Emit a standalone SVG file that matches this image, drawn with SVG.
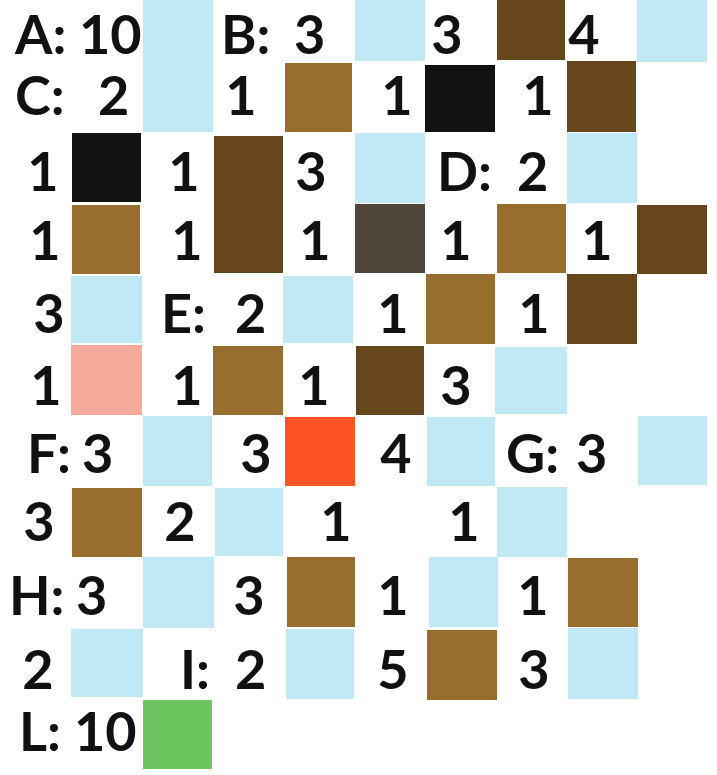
<svg xmlns="http://www.w3.org/2000/svg" width="717" height="775" viewBox="0 0 717 775">
<style>
.lb{fill:#bfe9f5}.db{fill:#66461a}.mb{fill:#976e2e}.bk{fill:#121212}.gr{fill:#4f453b}.pk{fill:#f5a99a}.or{fill:#fd5426}.gn{fill:#6cc55e}
text{font-family:Lato,"Liberation Sans",sans-serif;font-weight:700;font-size:54px;fill:#111}
.c{text-anchor:middle}
</style>
<rect width="717" height="775" fill="#fff"/>
<g id="cells">
<rect class="lb" x="143" y="0" width="70" height="62"/>
<rect class="lb" x="355" y="0" width="70" height="61"/>
<rect class="db" x="497" y="0" width="68" height="60"/>
<rect class="lb" x="637" y="0" width="70" height="62"/>
<rect class="lb" x="143" y="62" width="70" height="70"/>
<rect class="mb" x="285" y="63" width="67" height="69"/>
<rect class="bk" x="425" y="65" width="70" height="67"/>
<rect class="db" x="567" y="61" width="69" height="71"/>
<rect class="bk" x="72" y="133" width="69" height="69"/>
<rect class="db" x="214" y="136" width="69" height="137"/>
<rect class="lb" x="355" y="133" width="70" height="70"/>
<rect class="lb" x="567" y="133" width="70" height="70"/>
<rect class="mb" x="72" y="205" width="68" height="69"/>
<rect class="gr" x="355" y="204" width="70" height="69"/>
<rect class="mb" x="497" y="204" width="69" height="69"/>
<rect class="db" x="637" y="205" width="70" height="69"/>
<rect class="lb" x="71" y="276" width="71" height="67"/>
<rect class="lb" x="283" y="276" width="70" height="67"/>
<rect class="mb" x="426" y="274" width="69" height="70"/>
<rect class="db" x="567" y="274" width="70" height="70"/>
<rect class="pk" x="71" y="345" width="71" height="70"/>
<rect class="mb" x="213" y="346" width="70" height="69"/>
<rect class="db" x="356" y="346" width="68" height="69"/>
<rect class="lb" x="495" y="347" width="72" height="67"/>
<rect class="lb" x="143" y="416" width="69" height="70"/>
<rect class="or" x="285" y="417" width="70" height="69"/>
<rect class="lb" x="427" y="417" width="68" height="69"/>
<rect class="lb" x="638" y="416" width="69" height="69"/>
<rect class="mb" x="72" y="488" width="70" height="69"/>
<rect class="lb" x="215" y="488" width="68" height="68"/>
<rect class="lb" x="497" y="487" width="70" height="70"/>
<rect class="lb" x="143" y="557" width="71" height="71"/>
<rect class="mb" x="287" y="557" width="68" height="70"/>
<rect class="lb" x="429" y="557" width="69" height="70"/>
<rect class="mb" x="568" y="558" width="70" height="69"/>
<rect class="lb" x="71" y="629" width="72" height="68"/>
<rect class="lb" x="286" y="629" width="68" height="70"/>
<rect class="mb" x="427" y="630" width="70" height="70"/>
<rect class="lb" x="568" y="628" width="70" height="71"/>
<rect class="gn" x="143" y="700" width="69" height="69"/>
</g>
<g id="labels">
<text x="15" y="54">A: <tspan x="79">10</tspan></text>
<text x="221" y="54">B: <tspan x="294">3</tspan></text>
<text class="c" x="447" y="54">3</text>
<text class="c" x="584" y="54">4</text>
<text x="15" y="115">C: <tspan x="98">2</tspan></text>
<text class="c" x="241" y="115">1</text>
<text class="c" x="397" y="115">1</text>
<text class="c" x="538" y="115">1</text>
<text class="c" x="43" y="191">1</text>
<text class="c" x="184" y="191">1</text>
<text class="c" x="311" y="191">3</text>
<text x="437" y="191">D: <tspan x="517">2</tspan></text>
<text class="c" x="45" y="260">1</text>
<text class="c" x="187" y="260">1</text>
<text class="c" x="315" y="260">1</text>
<text class="c" x="456" y="260">1</text>
<text class="c" x="597" y="260">1</text>
<text class="c" x="49" y="333">3</text>
<text x="161" y="333">E: <tspan x="235">2</tspan></text>
<text class="c" x="393" y="333">1</text>
<text class="c" x="534" y="333">1</text>
<text class="c" x="46" y="405">1</text>
<text class="c" x="187" y="405">1</text>
<text class="c" x="314" y="405">1</text>
<text class="c" x="456" y="405">3</text>
<text x="27" y="473">F: <tspan x="82">3</tspan></text>
<text class="c" x="256" y="473">3</text>
<text class="c" x="396" y="473">4</text>
<text x="506" y="473">G: <tspan x="576">3</tspan></text>
<text class="c" x="39" y="541">3</text>
<text class="c" x="180" y="541">2</text>
<text class="c" x="336" y="541">1</text>
<text class="c" x="464" y="541">1</text>
<text x="9" y="615">H: <tspan x="76">3</tspan></text>
<text class="c" x="249" y="615">3</text>
<text class="c" x="393" y="615">1</text>
<text class="c" x="533" y="615">1</text>
<text class="c" x="38" y="689">2</text>
<text x="180" y="689">I: <tspan x="235">2</tspan></text>
<text class="c" x="393" y="689">5</text>
<text class="c" x="534" y="689">3</text>
<text x="19" y="751">L: <tspan x="74">10</tspan></text>
</g>
</svg>
